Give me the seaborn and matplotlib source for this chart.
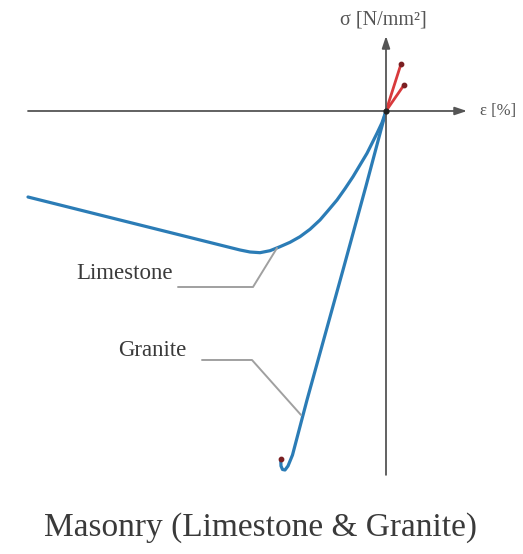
import matplotlib
matplotlib.use("Agg")
import matplotlib.pyplot as plt
import seaborn as sns
import pandas as pd

# Stress-strain curves for masonry (strain in %, stress in N/mm²)
limestone_eps = [-3.58, -3.26, -2.86, -2.46, -2.06, -1.76, -1.58, -1.46, -1.36, -1.26,
                 -1.16, -1.06, -0.96, -0.86, -0.76, -0.66, -0.58, -0.49, -0.41, -0.33,
                 -0.26, -0.19, -0.14, -0.09, -0.04, 0.0]
limestone_sig = [-28.67, -31.33, -34.67, -38.0, -41.33, -43.83, -45.33, -46.33, -47.0, -47.23,
                 -46.57, -45.23, -43.77, -41.9, -39.43, -36.33, -33.23, -29.67, -25.9, -21.9,
                 -18.0, -14.1, -10.77, -7.43, -3.9, 0.0]

granite_eps = [0.0, -0.20, -0.43, -0.79, -0.935, -0.98, -1.01, -1.035, -1.05, -1.053]
granite_sig = [0.0, -25.0, -53.0, -96.33, -114.67, -118.33, -119.67, -119.5, -118.33, -116.1]

# Tensile branches (failure points)
tension_eps = [0.15, 0.18]
tension_sig = [15.67, 8.67]

granite_end = (granite_eps[-1], granite_sig[-1])

title = "Masonry (Limestone & Granite)"

sns.set_theme(style="white")
plt.rcParams['font.family'] = ['Liberation Serif', 'DejaVu Serif']

fig = plt.figure(figsize=(5.23, 5.54), dpi=100)
ax = fig.add_axes([0, 0, 1, 1])
ax.set_xlim(-3.86, 1.37)
ax.set_ylim(-147.67, 37.0)
ax.axis("off")

axis_col = "#555555"
blue = "#2b7cb6"
red = "#d83a3c"
grey = "#a0a0a0"
text_col = "#3a3a3a"

# coordinate axes with arrows
ax.annotate("", xy=(0.81, 0), xytext=(-3.58, 0),
            arrowprops=dict(arrowstyle="-|>,head_length=0.6,head_width=0.2",
                            color=axis_col, lw=1.3, shrinkA=0, shrinkB=0))
ax.annotate("", xy=(0, 25.0), xytext=(0, -121.3),
            arrowprops=dict(arrowstyle="-|>,head_length=0.6,head_width=0.2",
                            color=axis_col, lw=1.3, shrinkA=0, shrinkB=0))
ax.text(0.94, 0, "ε [%]", fontsize=12, color="#555555", ha="left", va="center")
ax.text(-0.46, 30.3, "σ [N/mm²]", fontsize=14.5, color="#555555", ha="left", va="center")

line_kw = dict(solid_joinstyle="round", solid_capstyle="round")
df_l = pd.DataFrame({"eps": limestone_eps, "sig": limestone_sig})
df_g = pd.DataFrame({"eps": granite_eps, "sig": granite_sig})
sns.lineplot(data=df_l, x="eps", y="sig", ax=ax, color=blue, lw=2.3, sort=False, **line_kw)
sns.lineplot(data=df_g, x="eps", y="sig", ax=ax, color=blue, lw=2.3, sort=False, **line_kw)

for e, s in zip(tension_eps, tension_sig):
    sns.lineplot(x=[0, e], y=[0, s], ax=ax, color=red, lw=2.0, sort=False, **line_kw)
ax.scatter(tension_eps, tension_sig, s=10, color="#7a1f22", zorder=5)
ax.scatter([granite_end[0]], [granite_end[1]], s=10, color="#7a1f22", zorder=5)
ax.scatter([0], [0], s=12, color="#222222", zorder=6)

# leader lines and labels
ax.plot([-1.09, -1.33, -2.08], [-45.67, -58.67, -58.67], color=grey, lw=1.4)
ax.text(-2.13, -54.3, "Limestone", fontsize=16.5, color=text_col, ha="right", va="center")
ax.plot([-0.85, -1.34, -1.84], [-101.33, -83.0, -83.0], color=grey, lw=1.4)
ax.text(-2.00, -80.0, "Granite", fontsize=16.5, color=text_col, ha="right", va="center")

ax.text(-1.26, -139.0, title, fontsize=24, color=text_col, ha="center", va="center")

fig.savefig("out.png", dpi=100)
